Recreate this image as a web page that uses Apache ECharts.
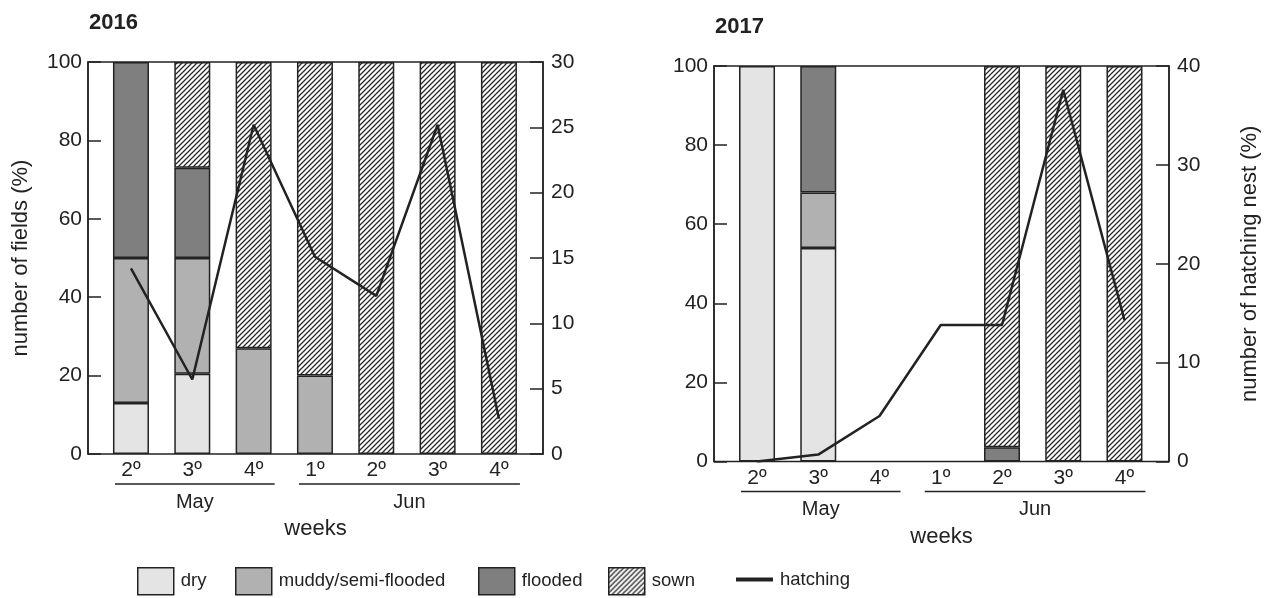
<!DOCTYPE html>
<html>
<head>
<meta charset="utf-8">
<script src="https://cdn.jsdelivr.net/npm/echarts@6/dist/echarts.min.js"></script>
<style>
  html, body { margin: 0; padding: 0; background: #fff; }
  #chart { width: 1267px; height: 598px; }
</style>
</head>
<body>
<div id="chart"></div>
<script>
// Week categories along the x axis, grouped by month
const weeks = ['2\u00BA', '3\u00BA', '4\u00BA', '1\u00BA', '2\u00BA', '3\u00BA', '4\u00BA'];
const monthNames = ['May', 'Jun'];
const monthFirstWeek = [0, 3];
const monthLastWeek = [2, 6];

// 2016: share of fields by condition (%) and hatching nests (%)
const dry2016 = [13, 20.5, null, null, null, null, null];
const muddy2016 = [37, 29.5, 27, 20, null, null, null];
const flooded2016 = [50, 23, null, null, null, null, null];
const sown2016 = [null, 27, 73, 80, 100, 100, 100];
const hatching2016 = [14.2, 5.7, 25.2, 15.1, 12.1, 25.2, 2.7];

// 2017
const dry2017 = [100, 54, null, null, null, null, null];
const muddy2017 = [null, 14, null, null, null, null, null];
const flooded2017 = [null, 32, null, null, 3.6, null, null];
const sown2017 = [null, null, null, null, 96.4, 100, 100];
const hatching2017 = [0, 0.7, 4.6, 13.8, 13.8, 37.6, 14.3];

const FONT = "'Liberation Sans', Arial, sans-serif";
const INK = '#222';

function hatchPattern() {
  const c = document.createElement('canvas');
  c.width = 5; c.height = 5;
  const g = c.getContext('2d');
  g.fillStyle = '#fff';
  g.fillRect(0, 0, 5, 5);
  g.strokeStyle = '#2a2a2a';
  g.lineWidth = 1.3;
  g.beginPath();
  g.moveTo(-1, 6); g.lineTo(6, -1);
  g.moveTo(-1, 1); g.lineTo(1, -1);
  g.moveTo(4, 6); g.lineTo(6, 4);
  g.stroke();
  return c;
}
const sownFill = { image: hatchPattern(), repeat: 'repeat' };

const fills = { dry: '#e4e4e4', muddy: '#b1b1b1', flooded: '#7f7f7f' };

const panels = [
  { year: '2016', frame: { left: 88, top: 62, width: 455, height: 392 },
    inner: { left: 100.3, top: 62, width: 429.3, height: 392 },
    rightMax: 30, rightInterval: 5,
    leftName: 'number of fields (%)', rightName: '',
    dry: dry2016, muddy: muddy2016, flooded: flooded2016, sown: sown2016, hatching: hatching2016 },
  { year: '2017', frame: { left: 714, top: 66, width: 455, height: 395.5 },
    inner: { left: 726.4, top: 66, width: 428.7, height: 395.5 },
    rightMax: 40, rightInterval: 10,
    leftName: '', rightName: 'number of hatching nest (%)',
    dry: dry2017, muddy: muddy2017, flooded: flooded2017, sown: sown2017, hatching: hatching2017 }
];

const grid = [], xAxis = [], yAxis = [], series = [], title = [];
const visibleY = (gi, pos, max, interval, name, gap, margin) => ({
  gridIndex: gi, type: 'value', position: pos, min: 0, max: max, interval: interval,
  name: name, nameLocation: 'middle', nameRotate: 90, nameGap: gap,
  nameTextStyle: { fontFamily: FONT, fontSize: 22, color: INK },
  axisLine: { show: true, lineStyle: { color: INK, width: 1.5 } },
  axisTick: { show: true, inside: true, length: 13, lineStyle: { color: INK, width: 1.5 } },
  axisLabel: { fontFamily: FONT, fontSize: 21, color: INK, margin: margin },
  splitLine: { show: false }
});
const hiddenY = (gi, max) => ({ gridIndex: gi, type: 'value', min: 0, max: max, show: false, splitLine: { show: false } });

panels.forEach((p, k) => {
  const gf = k * 2, gin = k * 2 + 1;
  grid.push(Object.assign({ show: true, borderColor: INK, borderWidth: 1.5, backgroundColor: 'transparent' }, p.frame));
  grid.push(Object.assign({ show: false }, p.inner));
  title.push({ text: p.year, left: p.frame.left + 1, top: p.frame.top - 50, padding: 0,
    textStyle: { fontFamily: FONT, fontSize: 22, fontWeight: 'bold', color: INK } });

  xAxis.push({ gridIndex: gf, type: 'value', min: 0, max: 1, show: true,
    name: 'weeks', nameLocation: 'middle', nameGap: 64,
    nameTextStyle: { fontFamily: FONT, fontSize: 22, color: INK },
    axisLine: { show: false }, axisTick: { show: false }, axisLabel: { show: false }, splitLine: { show: false } });
  xAxis.push({ gridIndex: gin, type: 'category', data: weeks,
    axisLine: { show: false }, axisTick: { show: false },
    axisLabel: { fontFamily: FONT, fontSize: 21, color: INK, margin: 6 } });

  const yb = k * 4;
  yAxis.push(visibleY(gf, 'left', 100, 20, p.leftName, 56, 6));
  yAxis.push(visibleY(gf, 'right', p.rightMax, p.rightInterval, p.rightName, 70, 8));
  yAxis.push(hiddenY(gin, 100));
  yAxis.push(hiddenY(gin, p.rightMax));

  const bar = (name, data, color) => ({
    name: name, type: 'bar', stack: 'fields' + k, xAxisIndex: gin, yAxisIndex: yb + 2,
    barWidth: 36, data: data,
    itemStyle: { color: color, borderColor: INK, borderWidth: 1.5 }
  });
  series.push(bar('dry', p.dry, fills.dry));
  series.push(bar('muddy/semi-flooded', p.muddy, fills.muddy));
  series.push(bar('flooded', p.flooded, fills.flooded));
  series.push(bar('sown', p.sown, sownFill));
  series.push({ name: 'hatching', type: 'line', xAxisIndex: gin, yAxisIndex: yb + 3,
    data: p.hatching, symbol: 'none', z: 5,
    lineStyle: { color: INK, width: 2.5 }, itemStyle: { color: INK } });
});

// One legend block per item so each sits at its own spot along the bottom row
const legendItems = [
  { name: 'dry', left: 137 },
  { name: 'muddy/semi-flooded', left: 235 },
  { name: 'flooded', left: 478 },
  { name: 'sown', left: 608 },
  { name: 'hatching', left: 736 }
];
const legend = legendItems.map(it => {
  const isLine = it.name === 'hatching';
  return {
    data: [isLine ? { name: it.name, icon: 'rect', itemStyle: { color: INK, borderWidth: 0 } } : { name: it.name, icon: 'rect' }],
    left: it.left, top: isLine ? 570 : 567, padding: 0,
    itemWidth: isLine ? 37 : 36, itemHeight: isLine ? 4 : 27,
    selectedMode: false,
    itemStyle: isLine ? undefined : { borderColor: INK, borderWidth: 1.5 },
    textStyle: { fontFamily: FONT, fontSize: 18.5, color: INK, padding: [0, 0, 0, 2] }
  };
});

const chart = echarts.init(document.getElementById('chart'), null, { renderer: 'canvas' });
chart.setOption({ animation: false, backgroundColor: '#fff', title, grid, xAxis, yAxis, series, legend });

// Month brackets under the week labels, placed from the category axis positions
const graphic = [];
panels.forEach((p, k) => {
  const xi = k * 2 + 1, yi = k * 4 + 2;
  const base = chart.convertToPixel({ yAxisIndex: yi }, 0);
  monthNames.forEach((m, j) => {
    const x1 = chart.convertToPixel({ xAxisIndex: xi }, monthFirstWeek[j]) - 16;
    const x2 = chart.convertToPixel({ xAxisIndex: xi }, monthLastWeek[j]) + 21;
    graphic.push({ type: 'line', silent: true,
      shape: { x1: x1, y1: base + 30, x2: x2, y2: base + 30 },
      style: { stroke: INK, lineWidth: 1.5 } });
    graphic.push({ type: 'text', silent: true, x: (x1 + x2) / 2, y: base + 48,
      style: { text: m, font: '20px ' + FONT, fill: INK,
        align: 'center', verticalAlign: 'middle', textAlign: 'center', textVerticalAlign: 'middle' } });
  });
});
chart.setOption({ graphic: graphic });
</script>
</body>
</html>
